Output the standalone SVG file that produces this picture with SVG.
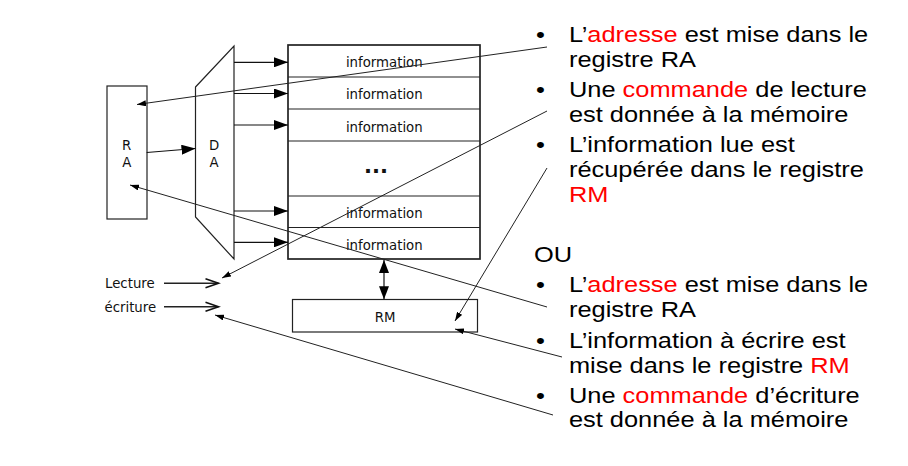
<svg xmlns="http://www.w3.org/2000/svg" width="908" height="466" viewBox="0 0 908 466">
<style>
.box{fill:#fff;stroke:#222;stroke-width:1.2}
.mem{fill:#fff;stroke:#222;stroke-width:1.7}
.row{stroke:#222;stroke-width:1.2;fill:none}
.lbl{font-family:"DejaVu Sans",Verdana,sans-serif;font-size:13.3px;fill:#111}
.big{stroke:#111;stroke-width:1.2;fill:none}
.thin{stroke:#222;stroke-width:1;fill:none}
.open{stroke:#222;stroke-width:1.5;fill:none}
.txt{font-family:"Liberation Sans",Arial,sans-serif;font-size:22px;fill:#000}
.red{fill:#ff0000}
</style>
<defs>
<marker id="bigHead" markerUnits="userSpaceOnUse" markerWidth="14" markerHeight="10" refX="14" refY="5" orient="auto">
<path d="M0,0 L14,5 L0,10 z" fill="#000"/>
</marker>
<marker id="bidHead" markerUnits="userSpaceOnUse" markerWidth="13" markerHeight="10" refX="13" refY="5" orient="auto-start-reverse">
<path d="M0,0 L13,5 L0,10 z" fill="#000"/>
</marker>
<marker id="smallHead" markerUnits="userSpaceOnUse" markerWidth="9" markerHeight="6" refX="9" refY="3" orient="auto">
<path d="M0,0 L9,3 L0,6 z" fill="#000"/>
</marker>
<marker id="openHead" markerUnits="userSpaceOnUse" markerWidth="16" markerHeight="12" refX="14" refY="6" orient="auto">
<path d="M1,1.5 L14,6 L1,10.5" fill="none" stroke="#111" stroke-width="1.6"/>
</marker>
</defs>

<g id="RA">
<rect class="box" x="107" y="86" width="40" height="133"/>
<text class="lbl" x="126.7" y="149.5" text-anchor="middle">R</text>
<text class="lbl" x="126.7" y="166.8" text-anchor="middle">A</text>
</g>

<g id="DA">
<polygon class="box" points="195.5,87 234,46 234,259 195.5,217"/>
<text class="lbl" x="214" y="149.5" text-anchor="middle">D</text>
<text class="lbl" x="214" y="166.8" text-anchor="middle">A</text>
</g>

<g id="memoire">
<rect class="mem" x="288" y="45" width="192" height="214"/>
<line class="row" x1="288" y1="77" x2="480" y2="77"/>
<line class="row" x1="288" y1="109" x2="480" y2="109"/>
<line class="row" x1="288" y1="141" x2="480" y2="141"/>
<line class="row" x1="288" y1="196" x2="480" y2="196"/>
<line class="row" x1="288" y1="227.5" x2="480" y2="227.5"/>
<text class="lbl" x="384.3" y="67" text-anchor="middle">information</text>
<text class="lbl" x="384.3" y="99.3" text-anchor="middle">information</text>
<text class="lbl" x="384.3" y="131.5" text-anchor="middle">information</text>
<text x="376" y="173" text-anchor="middle" font-family="DejaVu Sans,sans-serif" font-weight="bold" font-size="21px" fill="#111">...</text>
<text class="lbl" x="384.3" y="218" text-anchor="middle">information</text>
<text class="lbl" x="384.3" y="249.5" text-anchor="middle">information</text>
</g>

<g id="RM">
<rect class="box" x="292.5" y="299.5" width="185" height="32.5"/>
<text class="lbl" x="385" y="321.5" text-anchor="middle">RM</text>
</g>

<g id="Lecture">
<text class="lbl" x="105" y="288.3">Lecture</text>
</g>
<g id="ecriture">
<text class="lbl" x="104.5" y="312">écriture</text>
</g>

<g id="connecteurs">
<line class="big" x1="146.7" y1="152.5" x2="195.5" y2="148.5" marker-end="url(#bigHead)"/>
<line class="big" x1="234" y1="62.3" x2="288" y2="62.3" marker-end="url(#bigHead)"/>
<line class="big" x1="234" y1="93.5" x2="288" y2="93.5" marker-end="url(#bigHead)"/>
<line class="big" x1="234" y1="125" x2="288" y2="125" marker-end="url(#bigHead)"/>
<line class="big" x1="234" y1="211" x2="288" y2="211" marker-end="url(#bigHead)"/>
<line class="big" x1="234" y1="242.3" x2="288" y2="242.3" marker-end="url(#bigHead)"/>
<line class="big" x1="384" y1="260" x2="384" y2="299.3" marker-start="url(#bidHead)" marker-end="url(#bidHead)"/>
<line class="open" x1="164" y1="283.3" x2="218.5" y2="283.3" marker-end="url(#openHead)"/>
<line class="open" x1="164" y1="306.8" x2="218.5" y2="306.8" marker-end="url(#openHead)"/>
<line class="thin" x1="547" y1="47" x2="137" y2="104.5" marker-end="url(#smallHead)"/>
<line class="thin" x1="547" y1="111" x2="222" y2="278" marker-end="url(#smallHead)"/>
<line class="thin" x1="547" y1="168" x2="455" y2="321" marker-end="url(#smallHead)"/>
<line class="thin" x1="547" y1="307" x2="130" y2="185" marker-end="url(#smallHead)"/>
<line class="thin" x1="562" y1="357" x2="455" y2="329" marker-end="url(#smallHead)"/>
<line class="thin" x1="553" y1="415" x2="215" y2="315" marker-end="url(#smallHead)"/>
</g>

<g id="texte" transform="scale(1.155 1)">
<text class="txt" x="464.1" y="42">•</text>
<text class="txt" x="492.6" y="42">L’<tspan class="red">adresse</tspan> est mise dans le</text>
<text class="txt" x="492.6" y="67">registre RA</text>
<text class="txt" x="464.1" y="97.5">•</text>
<text class="txt" x="492.6" y="97.5">Une <tspan class="red">commande</tspan> de lecture</text>
<text class="txt" x="492.6" y="122">est donnée à la mémoire</text>
<text class="txt" x="464.1" y="152">•</text>
<text class="txt" x="492.6" y="152">L’information lue est</text>
<text class="txt" x="492.6" y="177">récupérée dans le registre</text>
<text class="txt red" x="492.6" y="202">RM</text>
<text class="txt" x="462.3" y="262">OU</text>
<text class="txt" x="464.1" y="292.5">•</text>
<text class="txt" x="492.6" y="292.5">L’<tspan class="red">adresse</tspan> est mise dans le</text>
<text class="txt" x="492.6" y="317.5">registre RA</text>
<text class="txt" x="464.1" y="348.5">•</text>
<text class="txt" x="492.6" y="348.5">L’information à écrire est</text>
<text class="txt" x="492.6" y="373">mise dans le registre <tspan class="red">RM</tspan></text>
<text class="txt" x="464.1" y="403.5">•</text>
<text class="txt" x="492.6" y="403.5">Une <tspan class="red">commande</tspan> d’écriture</text>
<text class="txt" x="492.6" y="427">est donnée à la mémoire</text>
</g>
</svg>
